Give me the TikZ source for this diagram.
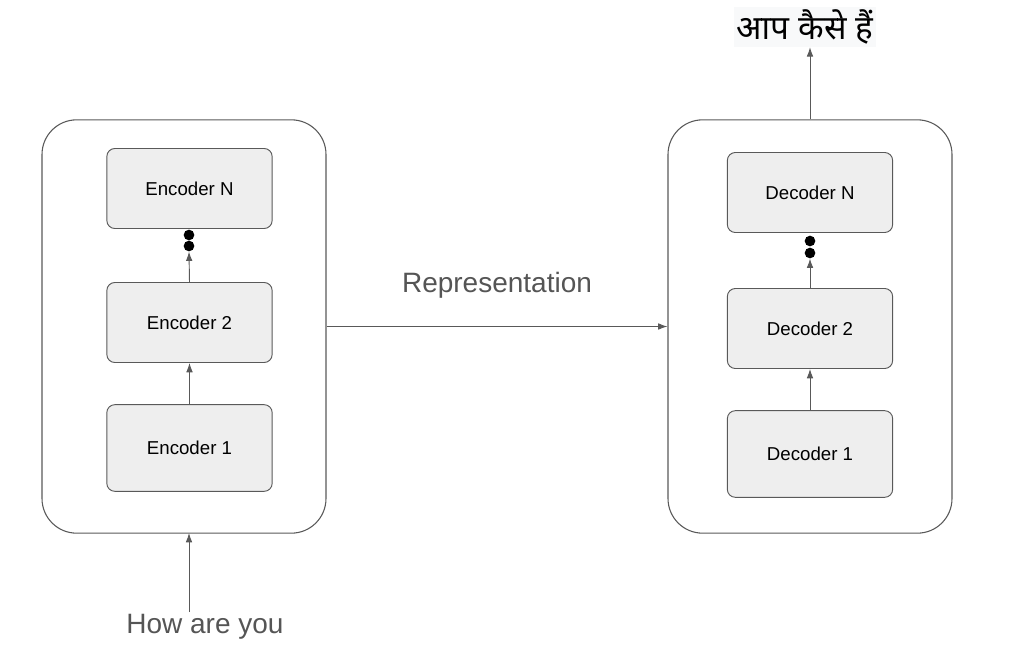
\documentclass[tikz,border=0pt]{standalone}
\usepackage{fontspec}
\setmainfont{Liberation Sans}
\newfontfamily\devanagarifont[Script=Devanagari]{Noto Sans}
\usetikzlibrary{arrows.meta}
\definecolor{ln}{HTML}{595959}
\definecolor{bx}{HTML}{EEEEEE}
\definecolor{tx}{HTML}{555555}
\definecolor{hbg}{HTML}{F8F9FA}
\tikzset{
 cont/.style={draw=ln,rounded corners=26pt,line width=0.8pt},
 blk/.style={draw=ln,fill=bx,rounded corners=6pt,line width=0.7pt,minimum width=124pt,minimum height=60pt,font=\fontsize{14}{16}\selectfont,inner sep=0pt},
 arr/.style={draw=ln,line width=0.7pt,-{Latex[length=7pt,width=5pt]}},
 dot/.style={circle,fill=black,inner sep=0pt,minimum size=8pt},
 lbl/.style={text=tx,font=\fontsize{21}{24}\selectfont,inner sep=0pt}
}
\begin{document}
\begin{tikzpicture}[x=0.75pt,y=-0.75pt]
\useasboundingbox (0,0) rectangle (1022,650);
\node[cont,minimum width=213pt,minimum height=310pt] (L) at (184,326.5) {};
\node[cont,minimum width=213pt,minimum height=310pt] (R) at (810,326.5) {};
\node[blk] (e3) at (189.5,188.5) {Encoder N};
\node[blk] (e2) at (189.5,322.5) {Encoder 2};
\node[blk,minimum height=65pt] (e1) at (189.5,448) {Encoder 1};
\node[blk] (d3) at (810,192.5) {Decoder N};
\node[blk] (d2) at (810,328.5) {Decoder 2};
\node[blk,minimum height=65pt] (d1) at (810,454) {Decoder 1};
\node[dot] (ea) at (189,235) {};
\node[dot] (eb) at (189,246) {};
\node[dot] (da) at (810,241) {};
\node[dot] (db) at (810,253) {};
\draw[arr] (e1.north) -- (e2.south);
\draw[arr] (e2.north) -- (eb.south);
\draw[arr] (d1.north) -- (d2.south);
\draw[arr] (d2.north) -- (db.south);
\draw[arr] (L.east) -- (R.west);
\node[lbl] (rep) at (497,285) {Representation};
\node[lbl] (in) at (205,627) {How are you};
\coordinate (ia) at (189,612);
\draw[arr] (ia) -- (189,533);
\node[fill=hbg,inner sep=2pt,font=\fontsize{25}{28}\devanagarifont] (out) at (805,27) {आप कैसे हैं};
\draw[arr] (R.north) -- (R.north |- out.south);
\end{tikzpicture}
\end{document}
